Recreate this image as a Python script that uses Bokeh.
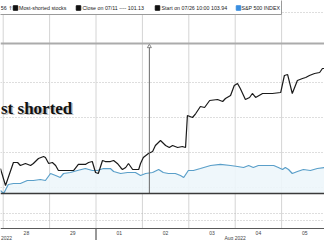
from bokeh.plotting import figure
from bokeh.models import Range1d, Span, FixedTicker
from bokeh.core.properties import value
from bokeh.embed import file_html
from bokeh.resources import INLINE

# ---- data (x = trading days since 28 Jul open, y = index level) ----
short_t = [-0.06, 0.05, 0.22, 0.31, 0.37, 0.48, 0.59, 0.65, 0.76, 0.87,
           0.91, 0.98, 1.06, 1.13, 1.19, 1.30, 1.41, 1.52, 1.62, 1.77,
           1.84, 1.92, 1.99, 2.05, 2.14, 2.20, 2.31, 2.38, 2.46, 2.53,
           2.57, 2.64, 2.70, 2.79, 2.92, 2.96, 3.02, 3.13, 3.22, 3.28,
           3.39, 3.50, 3.58, 3.65, 3.76, 3.86, 3.93, 3.97, 4.08, 4.15,
           4.25, 4.34, 4.45, 4.62, 4.73, 4.79, 4.90, 4.98, 5.05, 5.11,
           5.22, 5.31, 5.37, 5.44, 5.59, 5.80, 5.98, 6.06, 6.13, 6.23,
           6.34, 6.45, 6.52, 6.60, 6.71, 6.82, 6.88, 6.93]
short_v = [102.71, 100.29, 103.57, 103.57, 103.14, 103.43, 103.14, 103.43, 104.14, 104.43,
           104.29, 103.43, 103.57, 103.14, 102.43, 102.43, 102.43, 102.43, 103.29, 103.29,
           103.57, 103.71, 102.14, 102.00, 103.86, 103.71, 103.71, 103.86, 103.43, 102.86,
           102.57, 102.86, 103.43, 102.57, 102.57, 103.43, 104.29, 104.86, 105.14, 106.00,
           106.71, 106.00, 105.71, 106.00, 105.71, 105.86, 105.71, 110.29, 110.00, 110.57,
           111.57, 111.43, 112.43, 112.57, 112.29, 112.71, 113.14, 114.57, 114.86, 114.14,
           112.57, 112.86, 113.43, 112.86, 113.43, 113.43, 113.57, 116.00, 116.14, 113.43,
           115.29, 115.57, 115.71, 116.00, 116.29, 116.43, 117.00, 117.00]

spx_t = [-0.06, 0.01, 0.11, 0.22, 0.37, 0.52, 0.65, 0.80, 0.91, 1.02,
         1.13, 1.23, 1.30, 1.45, 1.60, 1.77, 1.92, 2.03, 2.16, 2.31,
         2.38, 2.53, 2.68, 2.85, 2.96, 3.07, 3.22, 3.35, 3.45, 3.56,
         3.71, 3.82, 3.89, 3.99, 4.10, 4.25, 4.47, 4.68, 4.90, 5.05,
         5.18, 5.29, 5.39, 5.50, 5.70, 5.83, 5.93, 6.02, 6.08, 6.15,
         6.23, 6.34, 6.47, 6.62, 6.77, 6.93]
spx_v = [99.57, 99.14, 100.43, 100.57, 100.57, 101.00, 101.00, 101.14, 101.00, 102.00,
         101.71, 101.43, 102.00, 102.14, 102.43, 102.71, 102.43, 102.43, 102.71, 102.71,
         102.29, 102.00, 102.14, 102.14, 101.71, 102.00, 102.14, 102.57, 102.14, 102.00,
         102.00, 101.71, 101.43, 102.43, 102.43, 102.71, 103.14, 103.29, 103.14, 103.00,
         102.86, 103.14, 102.86, 103.14, 103.14, 103.14, 102.86, 102.57, 102.86, 102.57,
         102.00, 102.29, 102.57, 102.43, 102.71, 102.86]

day_labels = ["28", "29", "01", "02", "03", "04", "05"]
day_centers = [0.5, 1.5, 2.5, 3.5, 4.5, 5.5, 6.5]
day_bounds = [0, 1, 2, 3, 4, 5, 6]
month_labels = ["2022", "Aug 2022"]
month_break = 2
marker_t = 3.15
grid_levels = [100, 105, 110, 115, 125]
legend_labels = ["Most-shorted stocks", "Close on 07/11 ---- 101.13",
                 "Start on 07/26 10:00 103.94", "S&P 500 INDEX"]
legend_colors = ["#111111", "#111111", "#111111", "#3a8ee0"]
title_text = "st shorted"

# ---- layout helpers (pixel -> data, for decorations only) ----
W, H = 324, 240
def fx(px):
    return (px - 2.7) / 46.4
def fy(py):
    return 100 + (187 - py) / 7.0

p = figure(width=W, height=H, output_backend="svg", toolbar_location=None,
           x_range=Range1d(fx(0), fx(W)), y_range=Range1d(fy(H), fy(0)),
           x_axis_location=None, y_axis_location=None, min_border=0)
p.outline_line_color = None
p.background_fill_color = "white"
p.xgrid.visible = False
p.ygrid.ticker = FixedTicker(ticks=grid_levels)
p.ygrid.grid_line_color = "#bcbcbc"
p.ygrid.grid_line_dash = "1 2"

# vertical day grid
p.segment(x0=day_bounds, x1=day_bounds, y0=fy(228), y1=fy(13),
          line_color="#d4d4d4", line_width=1)
# lower panel dotted lines
for py in (213, 220):
    p.add_layout(Span(location=fy(py), dimension="width", line_color="#bcbcbc",
                      line_dash="1 2", line_width=1))

# area + lines
base = fy(193)
p.varea(x=spx_t, y1=spx_v, y2=[base] * len(spx_t), fill_color="#edf6fb", fill_alpha=0.9)
p.line(spx_t, spx_v, line_color="#5a9fc9", line_width=1.2)
p.line(short_t, short_v, line_color="#1a1a1a", line_width=1.2)

# panel separators
p.add_layout(Span(location=fy(43), dimension="width", line_color="#ababab", line_width=2))
p.add_layout(Span(location=base, dimension="width", line_color="#3a3a3a", line_width=1.5))
p.add_layout(Span(location=fy(228), dimension="width", line_color="#5a5a5a", line_width=1))
p.segment(x0=[month_break], x1=[month_break], y0=[fy(228)], y1=[fy(240)],
          line_color="#333333", line_width=1)

# vertical marker
p.segment(x0=[marker_t], x1=[marker_t], y0=[fy(44)], y1=[base],
          line_color="#6a6a6a", line_width=1)
p.scatter([marker_t], [fy(46)], marker="triangle", size=4, fill_color="white",
          line_color="#6a6a6a", line_width=0.8)

# title with shadow
p.text([fx(0.5)], [fy(107.5)], text=[title_text], text_align="left",
       text_baseline="alphabetic", text_font=value("Liberation Serif"),
       text_font_style="bold", text_font_size="17px", text_color="#8a8a8a",
       text_alpha=0.55, x_offset=1.5, y_offset=1.5)
p.text([fx(0.5)], [fy(107.5)], text=[title_text], text_align="left",
       text_baseline="alphabetic", text_font=value("Liberation Serif"),
       text_font_style="bold", text_font_size="17px", text_color="#111111")

# x tick labels
p.text(day_centers, [fy(232)] * len(day_centers), text=day_labels, text_align="center",
       text_baseline="middle", text_font=value("Liberation Sans"),
       text_font_size="5px", text_color="#444444")
p.text([fx(0.5)], [fy(237.5)], text=[month_labels[0]], text_align="left",
       text_baseline="middle", text_font=value("Liberation Sans"),
       text_font_size="5px", text_color="#444444")
p.text([5.0], [fy(237.5)], text=[month_labels[1]], text_align="center",
       text_baseline="middle", text_font=value("Liberation Sans"),
       text_font_size="5px", text_color="#444444")

# legend bar
p.quad(left=[fx(-3)], right=[fx(281)], top=[fy(-3)], bottom=[fy(14)],
       fill_color="white", line_color="#9a9a9a", line_width=1)
ly = fy(7.5)
p.text([fx(0.3)], [ly], text=["56"], text_align="left", text_baseline="middle",
       text_font=value("Liberation Sans"), text_font_size="5.3px", text_color="#222222")
p.text([fx(10)], [ly], text=["\u2191"], text_align="center", text_baseline="middle",
       text_font=value("DejaVu Sans"), text_font_size="5.3px", text_color="#222222")
sq_px = [15, 78, 157, 238]
tx_px = [18.5, 82, 161, 241]
p.scatter([fx(v) for v in sq_px], [ly] * 4, marker="square", size=4.5,
          fill_color=legend_colors, line_color=legend_colors)
p.text([fx(v) for v in tx_px], [ly] * 4, text=legend_labels, text_align="left",
       text_baseline="middle", text_font=value("Liberation Sans"),
       text_font_size="5.3px", text_color="#222222")

open("out.html", "w").write(file_html(p, INLINE))
